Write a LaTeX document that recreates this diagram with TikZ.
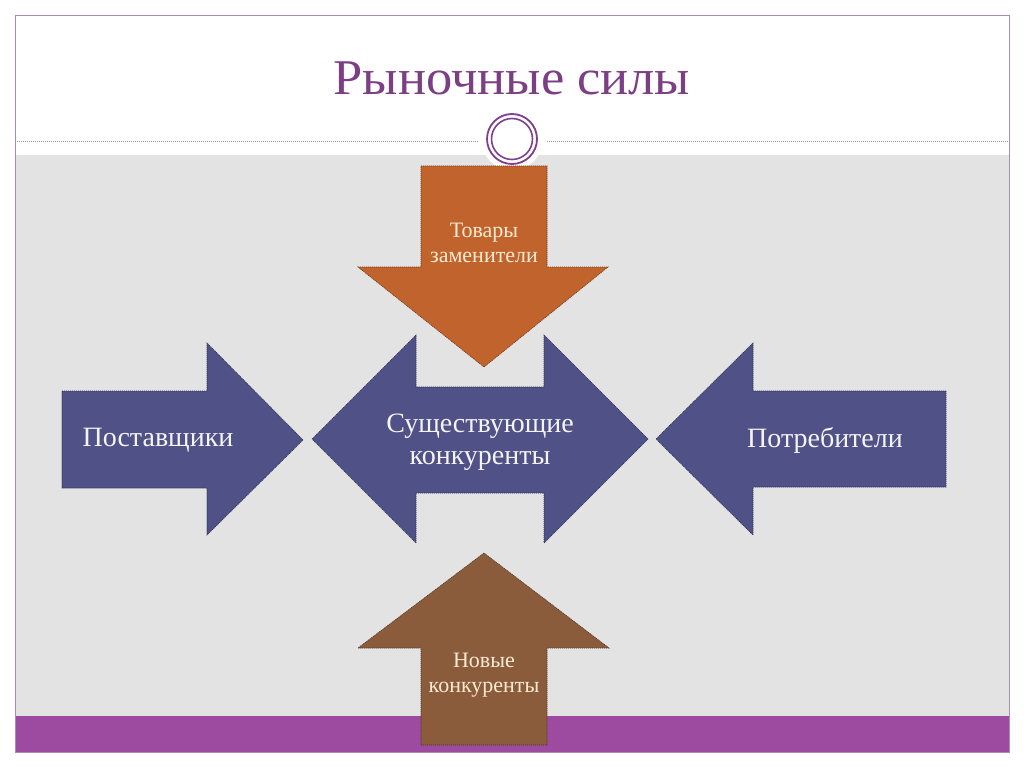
\documentclass[tikz,border=0pt]{standalone}
\usepackage{fontspec}
\setmainfont{Liberation Serif}
\definecolor{frameC}{HTML}{A98BB0}
\definecolor{bgGray}{HTML}{E3E3E3}
\definecolor{bandC}{HTML}{9C4BA0}
\definecolor{titleC}{HTML}{7D3F84}
\definecolor{ringC}{HTML}{7E3F8F}
\definecolor{blueA}{HTML}{4F5187}
\definecolor{orangeA}{HTML}{C1632C}
\definecolor{brownA}{HTML}{8B5C3B}
\definecolor{lightTxt}{HTML}{F4F4F4}
\definecolor{creamTxt}{HTML}{FBEAD2}
\tikzset{
  arrowshape/.style={draw=#1!60!black, line width=0.6pt, dash pattern=on 1.2pt off 0.8pt},
  bluetxt/.style={text=lightTxt, font=\fontsize{28}{32}\selectfont, align=center, inner sep=0pt},
  creamtxt/.style={text=creamTxt, font=\fontsize{22}{25}\selectfont, align=center, inner sep=0pt},
}
\begin{document}
\begin{tikzpicture}[x=1pt,y=-1pt]
\useasboundingbox (0,0) rectangle (1024,767);
\fill[white] (0,0) rectangle (1024,767);
% background panels
\fill[bgGray] (15,155) rectangle (1009,716);
\fill[bandC] (15,716) rectangle (1009,752);
\draw[frameC, line width=0.8pt] (15,15) rectangle (1009,752);
% dotted separator
\draw[gray!80, line width=0.6pt, dash pattern=on 1pt off 1pt] (15,141) -- (478,141);
\draw[gray!80, line width=0.6pt, dash pattern=on 1pt off 1pt] (547,141) -- (1009,141);
% title
\node[text=titleC, font=\fontsize{50}{56}\selectfont, xscale=1.05] (title) at (512,78) {Рыночные силы};
% ornament circle
\fill[white] (512,139) circle (31);
\draw[ringC, line width=1.8pt] (512,139) circle (25);
\draw[ringC, line width=1.6pt] (512,139) circle (20.5);
% top arrow (substitutes)
\filldraw[fill=orangeA, arrowshape=orangeA] (421,166) -- (547,166) -- (547,267) -- (608,267) -- (484,367) -- (358,267) -- (421,267) -- cycle;
% bottom arrow (new competitors)
\filldraw[fill=brownA, arrowshape=brownA] (421,745) -- (547,745) -- (547,648) -- (609,648) -- (484,553) -- (358,648) -- (421,648) -- cycle;
% left arrow (suppliers)
\filldraw[fill=blueA, arrowshape=blueA] (62,391) -- (207,391) -- (207,343) -- (303,440) -- (207,535) -- (207,488) -- (62,488) -- cycle;
% right arrow (consumers)
\filldraw[fill=blueA, arrowshape=blueA] (946,391) -- (753,391) -- (753,343) -- (656,439) -- (753,535) -- (753,487) -- (946,487) -- cycle;
% center double arrow
\filldraw[fill=blueA, arrowshape=blueA] (312,439) -- (416,335) -- (416,387) -- (544,387) -- (544,335) -- (648,439) -- (544,543) -- (544,493) -- (416,493) -- (416,543) -- cycle;
% labels
\node[creamtxt] (subst) at (484,243) {Товары\\заменители};
\node[creamtxt] (newc) at (484,675) {Новые\\конкуренты};
\node[bluetxt] (supp) at (158,440) {Поставщики};
\node[bluetxt] (cons) at (825,440) {Потребители};
\node[bluetxt] (exist) at (480,442) {Существующие\\конкуренты};
\end{tikzpicture}
\end{document}
